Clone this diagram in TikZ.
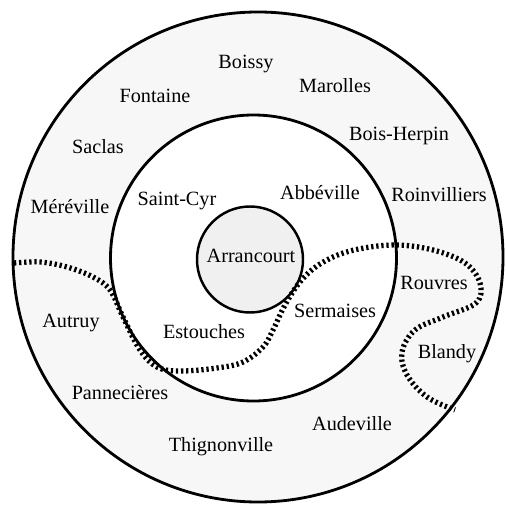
\documentclass[tikz,border=0pt]{standalone}
\usepackage{fontspec}
\setmainfont{Liberation Serif}
\begin{document}
\begin{tikzpicture}[x=0.02cm,y=-0.02cm,
    town/.style={font=\fontsize{11.5}{13}\selectfont, text height=1.55ex, text depth=0.2ex, inner sep=0pt},
    border/.style={line width=1.6pt}]
\useasboundingbox (0,0) rectangle (506,506);
\filldraw[border, fill=black!3](258,257) circle (245);
\filldraw[border, fill=white](253.5,258) circle (143);
\filldraw[line width=1.4pt, fill=black!6](250,259.5) circle (53);
% dotted boundary
\draw[line width=3pt, dash pattern=on 1.3pt off 1.6pt] plot[smooth, tension=0.6] coordinates {
    (14,263) (40,262) (67,267) (93,277) (110,290) (123,317) (140,350) (157,367) (180,371)
    (217,368) (243,362) (263,347) (273,330) (285,305) (300,282) (320,264) (350,251)
    (393,245) (433,250) (465,263) (480,283) (476,303) (443,317) (415,330) (402,352)
    (407,375) (427,397) (455,410)};
\node[town] (boissy) at (246,63) {Boissy};
\node[town] (marolles) at (335,87) {Marolles};
\node[town] (fontaine) at (155,97) {Fontaine};
\node[town] (boisherpin) at (399,135) {Bois-Herpin};
\node[town] (saclas) at (98,148) {Saclas};
\node[town] (saintcyr) at (177,200) {Saint-Cyr};
\node[town] (abbeville) at (320,194) {Abbéville};
\node[town] (roinvilliers) at (439,196) {Roinvilliers};
\node[town] (mereville) at (70,208) {Méréville};
\node[town] (arrancourt) at (251,257) {Arrancourt};
\node[town] (rouvres) at (434,284) {Rouvres};
\node[town] (sermaises) at (335,312) {Sermaises};
\node[town] (autruy) at (71,322) {Autruy};
\node[town] (estouches) at (204,333) {Estouches};
\node[town] (blandy) at (447,353) {Blandy};
\node[town] (pannecieres) at (120,394) {Pannecières};
\node[town] (audeville) at (352,425) {Audeville};
\node[town] (thignonville) at (221,446) {Thignonville};
\end{tikzpicture}
\end{document}
